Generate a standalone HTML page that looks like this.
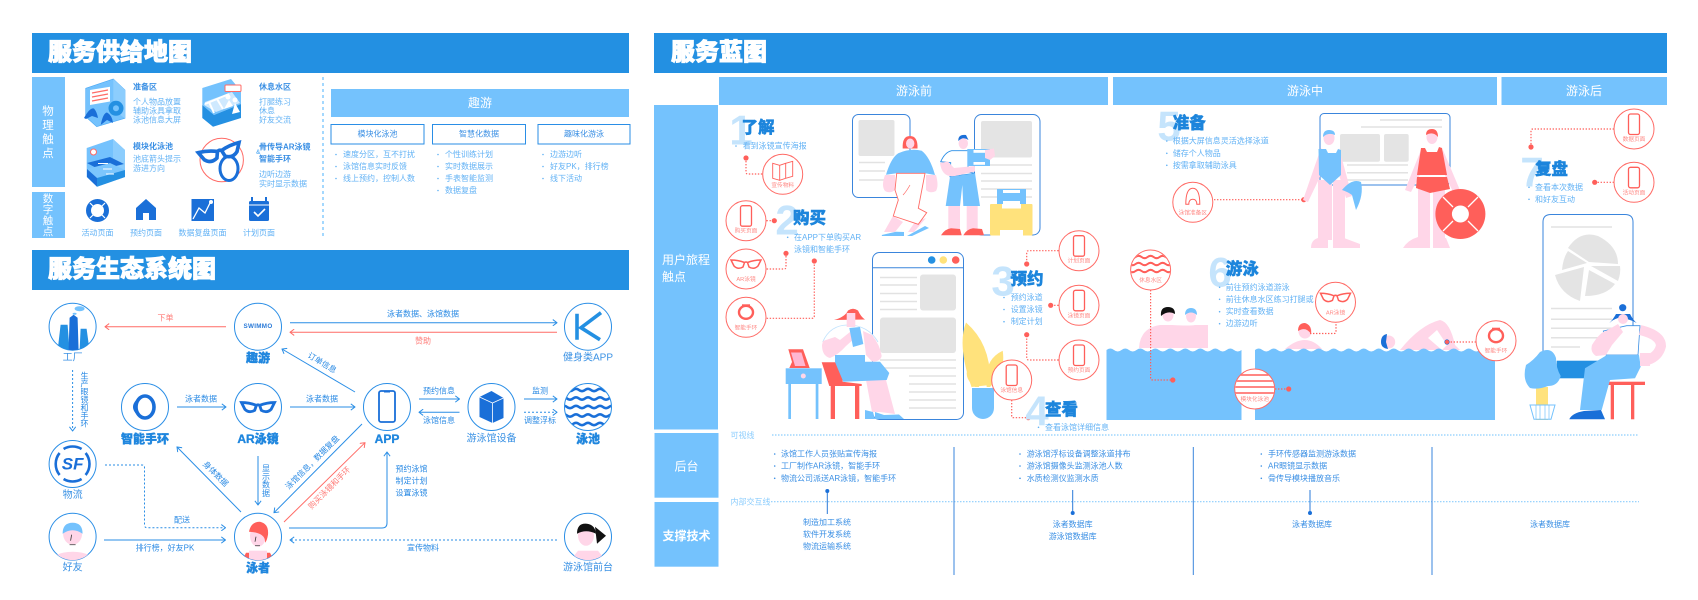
<!DOCTYPE html>
<html><head><meta charset="utf-8"><style>
html,body{margin:0;padding:0;background:#fff;width:1698px;height:600px;overflow:hidden}
svg{display:block;filter:blur(.35px)}
text{font-family:"Liberation Sans","Noto Sans CJK SC",sans-serif;dominant-baseline:central}
.t{font-size:24px;font-weight:900;fill:#fff;stroke:#fff;stroke-width:.9}
.w{fill:#fff}
.m{text-anchor:middle}
.l{font-size:8px;fill:#62b2f5}
.d{font-size:8px;fill:#3a8fe4}
.s{font-size:8px;fill:#2a8ae4}
.r{font-size:8px;fill:#ff7a76}
.lb{font-size:10px;fill:#3b92e4}
.bb{font-size:12px;font-weight:900;fill:#1f86de;stroke:#1f86de;stroke-width:.35}
.h{font-size:16.5px;font-weight:900;fill:#1c85dc;stroke:#1c85dc;stroke-width:.4}
.n{font-size:42px;font-weight:700;fill:#c5e4fc;text-anchor:middle}
.c{font-size:5.7px;fill:#ff8a86;text-anchor:middle}
.ln{stroke:#e2e2e2;stroke-width:1.5;fill:none}
.bl{fill:none;stroke:#2a8ee6;stroke-width:1}
.rd{fill:none;stroke:#ff6b66;stroke-width:1}
.dt{fill:none;stroke:#ff5f5a;stroke-width:1.2;stroke-dasharray:1.4 1.6}
.rc{fill:#fff;stroke:#ff6b66;stroke-width:1}
.ec{fill:#fff;stroke:#2a8ee6;stroke-width:1}
</style></head><body>
<svg width="1698" height="600" viewBox="0 0 1698 600" xmlns="http://www.w3.org/2000/svg">
<defs>
<marker id="ab" viewBox="0 0 10 10" refX="9" refY="5" markerWidth="7" markerHeight="7" markerUnits="userSpaceOnUse" orient="auto"><path d="M3 .5L9 5L3 9.5" fill="none" stroke="#2a8ee6" stroke-width="1.4"/></marker>
<marker id="ar" viewBox="0 0 10 10" refX="9" refY="5" markerWidth="7" markerHeight="7" markerUnits="userSpaceOnUse" orient="auto"><path d="M3 .5L9 5L3 9.5" fill="none" stroke="#ff6b66" stroke-width="1.4"/></marker>
<g id="pc"><circle r="20" class="rc"/><rect x="-5.5" y="-15" width="11" height="20.5" rx="2" fill="#fff" stroke="#ff5f5a" stroke-width="1.3"/></g>
<path id="gog" d="M-15 -4Q-8 -4 -1.5 -1.5L-3 3Q-8 6 -12 2ZM15 -4Q8 -4 1.5 -1.5L3 3Q8 6 12 2ZM-1.5 -1.5Q0 -2.5 1.5 -1.5"/>
<clipPath id="c0"><circle r="23.5"/></clipPath>
<clipPath id="c1"><circle r="19.5"/></clipPath>
<g id="wave"><path d="M-27 0q3 -2.4 6 0t6 0t6 0t6 0t6 0t6 0t6 0t6 0t6 0"/></g>
</defs>

<!-- SUPPLY MAP -->
<rect x="32" y="33" width="597" height="40" fill="#2390e2"/>
<text x="48" y="52.5" class="t">服务供给地图</text>
<rect x="32" y="77" width="33" height="110" fill="#74c2fd"/>
<rect x="32" y="192" width="33" height="46" fill="#74c2fd"/>
<g font-size="11.5" text-anchor="middle"><text x="48" y="112" class="w">物</text><text x="48" y="126" class="w">理</text><text x="48" y="140" class="w">触</text><text x="48" y="154" class="w">点</text></g>
<g font-size="10.5" text-anchor="middle"><text x="48" y="199" class="w">数</text><text x="48" y="210" class="w">字</text><text x="48" y="221" class="w">触</text><text x="48" y="232" class="w">点</text></g>
<line x1="323" y1="77" x2="323" y2="238" stroke="#74c2fd" stroke-width="1.3" stroke-dasharray="3 3"/>
<rect x="331" y="89" width="298" height="28" fill="#74c2fd"/>
<text x="480" y="103" class="w m" font-size="12">趣游</text>
<g fill="#fff" stroke="#2a8ee6" stroke-width="1"><rect x="331" y="124.5" width="93" height="19.5"/><rect x="432.5" y="124.5" width="93" height="19.5"/><rect x="538" y="124.5" width="92" height="19.5"/></g>
<g text-anchor="middle"><text x="377.5" y="134" class="d">模块化泳池</text><text x="479" y="134" class="d">智慧化数据</text><text x="584" y="134" class="d">趣味化游泳</text></g>
<g class="l">
<text x="343" y="154.5">速度分区，互不打扰</text><text x="343" y="166.5">泳馆信息实时反馈</text><text x="343" y="178.5">线上预约，控制人数</text>
<text x="445" y="154.5">个性训练计划</text><text x="445" y="166.5">实时数据展示</text><text x="445" y="178.5">手表智能监测</text><text x="445" y="190.5">数据复盘</text>
<text x="550" y="154.5">边游边听</text><text x="550" y="166.5">好友PK，排行榜</text><text x="550" y="178.5">线下活动</text>
</g>
<g fill="#62b2f5"><circle cx="336" cy="154.5" r=".8"/><circle cx="336" cy="166.5" r=".8"/><circle cx="336" cy="178.5" r=".8"/><circle cx="438" cy="154.5" r=".8"/><circle cx="438" cy="166.5" r=".8"/><circle cx="438" cy="178.5" r=".8"/><circle cx="438" cy="190.5" r=".8"/><circle cx="543" cy="154.5" r=".8"/><circle cx="543" cy="166.5" r=".8"/><circle cx="543" cy="178.5" r=".8"/></g>

<!-- supply icons -->
<g>
<path d="M85.7 88.3L113.3 79L125 90V118.3L96.7 126.7L85.7 116.7Z" fill="#74c2fd" stroke="#4aa8f4" stroke-width=".6"/><path d="M113.3 79L125 90V118.3L113.3 110Z" fill="#8ccdfd"/>
<path d="M90 90L110 86.7V101.5L90 105Z" fill="#fff"/><path d="M92 93L108 90M92 97L108 94M92 101L108 98" stroke="#ff6b66" stroke-width="1.2"/>
<circle cx="116" cy="108.3" r="7.5" fill="#2490e2"/><circle cx="116" cy="108.3" r="3" fill="#74c2fd"/>
<path d="M84 118Q90 107 94 108.5Q97 112 98 118L92 116L86 119ZM100.7 125Q103 113 107 112.5Q112 115 113 123L107 120Z" fill="#1a6fd8"/>
</g>
<g>
<path d="M202.3 88L231 79L241 91V104L214 115L202.3 105Z" fill="#74c2fd"/><path d="M202.3 105L214 115L241 104V118L213 126.7L202.3 118Z" fill="#2490e2"/><path d="M204 105L216 112L240 103L232 92L205 102Z" fill="#cfe9fe"/>
<rect x="225" y="85" width="16" height="6.5" rx="1" fill="#fff" stroke="#ff6b66" stroke-width="1"/>
<path d="M205 104L229 94M209 102L214 113M217 99L223 109" stroke="#fff" stroke-width="2" fill="none"/>
<circle cx="228" cy="97" r="2.5" fill="#fff"/><circle cx="235" cy="100" r="2.5" fill="#fff"/><path d="M224 109L229 100L233 106ZM232 114L235 103L240 112Z" fill="#fff"/>
</g>
<g>
<path d="M86.7 148L113 139L125 150V177L97 186.7L86.7 177Z" fill="#74c2fd"/><path d="M113 139L125 150V177L113 168Z" fill="#8ccdfd"/>
<circle cx="93.5" cy="152" r="3" fill="#fff" stroke="#ff6b66"/>
<path d="M87 163L110 157L124 164L100 170Z" fill="#1a6fd8"/><path d="M87 169L110 163L125 170L97 178Z" fill="#7cc6fd"/><path d="M87 169L97 178V186.7L87 177Z" fill="#1a6fd8"/><path d="M97 178L125 170V177L97 186.7Z" fill="#2490e2"/>
<path d="M98 163.5H108M103 169H112M106 174H114" stroke="#fff" stroke-width="1"/>
</g>
<g>
<circle cx="221.7" cy="160" r="21.7" fill="#fff" stroke="#ff6b66" stroke-width="1"/>
<use href="#gog" transform="translate(220,153) scale(1.4) rotate(-14)" fill="#fff" stroke="#1a6fd8" stroke-width="2.6"/>
<ellipse cx="229" cy="168.5" rx="9" ry="12" fill="none" stroke="#1a6fd8" stroke-width="3"/>
</g>
<g font-weight="700"><text x="133" y="87" class="d" font-weight="700">准备区</text><text x="259" y="87" class="d" font-weight="700">休息水区</text><text x="133" y="146.5" class="d" font-weight="700">模块化泳池</text><text x="259" y="147" class="d" font-weight="700">骨传导AR泳镜</text><text x="259" y="159" class="d" font-weight="700">智能手环</text><text x="256" y="153" font-size="6" fill="#62b2f5">&amp;</text></g>
<g class="l"><text x="133" y="102">个人物品放置</text><text x="133" y="111">辅助泳具拿取</text><text x="133" y="120">泳池信息大屏</text>
<text x="259" y="102">打腿练习</text><text x="259" y="111">休息</text><text x="259" y="120">好友交流</text>
<text x="133" y="159">池底箭头提示</text><text x="133" y="168.5">游进方向</text>
<text x="259" y="174.5">边听边游</text><text x="259" y="184">实时显示数据</text></g>
<!-- digital icons -->
<circle cx="97.5" cy="210.5" r="9" fill="none" stroke="#1a6fd8" stroke-width="5"/><g stroke="#fff" stroke-width="1.2"><path d="M90 203L94 207M105 203L101 207M90 218L94 214M105 218L101 214"/></g>
<path d="M146 199L156 208V220H149V213H143V220H136V208Z" fill="#1a6fd8"/>
<rect x="191.5" y="199" width="22.5" height="22" fill="#1a6fd8"/><path d="M193 219L199 208L205 213L211 201" fill="none" stroke="#fff" stroke-width="1.3"/><circle cx="211" cy="202" r="2" fill="#fff"/>
<rect x="249" y="201" width="20" height="20" rx="1.5" fill="#1a6fd8"/><path d="M252 197v5M266 197v5" stroke="#1a6fd8" stroke-width="2"/><line x1="249" y1="205" x2="269" y2="205" stroke="#fff"/><path d="M254 212L258 216L265 209" stroke="#fff" stroke-width="1.6" fill="none"/>
<g text-anchor="middle"><text x="97.5" y="233" class="l">活动页面</text><text x="146" y="233" class="l">预约页面</text><text x="202.5" y="233" class="l">数据复盘页面</text><text x="259" y="233" class="l">计划页面</text></g>

<!-- ECOSYSTEM -->
<rect x="32" y="250" width="597" height="40" fill="#2390e2"/>
<text x="48" y="269.5" class="t">服务生态系统图</text>
<!-- connectors -->
<line x1="226" y1="326.7" x2="105" y2="326.7" class="rd" marker-end="url(#ar)"/>
<line x1="290" y1="322.7" x2="557" y2="322.7" class="bl" marker-end="url(#ab)"/>
<line x1="557" y1="332.3" x2="290" y2="332.3" class="rd" marker-end="url(#ar)"/>
<line x1="355" y1="392" x2="282" y2="349" class="bl" marker-end="url(#ab)"/>
<line x1="72.6" y1="370" x2="72.6" y2="431" class="bl" stroke-dasharray="2 2" marker-end="url(#ab)"/>
<line x1="177" y1="407" x2="226" y2="407" class="bl" marker-end="url(#ab)"/>
<line x1="290" y1="407" x2="355" y2="407" class="bl" marker-end="url(#ab)"/>
<line x1="419" y1="399" x2="459.5" y2="399" class="bl" marker-end="url(#ab)"/>
<line x1="459.5" y1="412.3" x2="419" y2="412.3" class="bl" marker-end="url(#ab)"/>
<line x1="524" y1="399" x2="557" y2="399" class="bl" marker-end="url(#ab)"/>
<line x1="524" y1="412.3" x2="557" y2="412.3" class="bl" stroke-dasharray="2 2" marker-end="url(#ab)"/>
<line x1="241" y1="512" x2="177" y2="447" class="bl" marker-end="url(#ab)"/>
<line x1="258" y1="456" x2="258" y2="505" class="bl" marker-end="url(#ab)"/>
<line x1="362" y1="424" x2="274" y2="512.7" class="bl" marker-end="url(#ab)"/>
<line x1="284" y1="522" x2="365" y2="442.7" class="rd" marker-end="url(#ar)"/>
<path d="M289 528H382Q387 528 387 523V452" class="bl" marker-end="url(#ab)"/>
<path d="M105 465H142Q144.5 465 144.5 467.5V525Q144.5 527.7 147 527.7H225.5" class="bl" stroke-dasharray="2 2" marker-end="url(#ab)"/>
<line x1="104" y1="540" x2="225.5" y2="540" class="bl" marker-end="url(#ab)"/>
<line x1="557" y1="540" x2="290" y2="540" class="bl" stroke-dasharray="2 2" marker-end="url(#ab)"/>
<!-- connector labels -->
<g class="s">
<text x="165.5" y="318" class="r" text-anchor="middle">下单</text>
<text x="423" y="314" text-anchor="middle">泳者数据、泳馆数据</text>
<text x="423" y="341" class="r" text-anchor="middle">赞助</text>
<text x="322" y="363" text-anchor="middle" transform="rotate(31 322 363)">订单信息</text>
<text x="201" y="399" text-anchor="middle">泳者数据</text>
<text x="322" y="399" text-anchor="middle">泳者数据</text>
<text x="439" y="391" text-anchor="middle">预约信息</text>
<text x="439" y="420.5" text-anchor="middle">泳馆信息</text>
<text x="540" y="391" text-anchor="middle">监测</text>
<text x="540" y="420.5" text-anchor="middle">调整浮标</text>
<text x="215.5" y="474" text-anchor="middle" transform="rotate(45 215.5 474)">身体数据</text>
<text x="312.5" y="462.5" text-anchor="middle" transform="rotate(-45 312.5 462.5)">泳馆信息，数据复盘</text>
<text x="329.5" y="488" class="r" text-anchor="middle" transform="rotate(-45 329.5 488)">购买泳镜和手环</text>
<text x="395.5" y="469">预约泳馆</text><text x="395.5" y="481">制定计划</text><text x="395.5" y="493">设置泳镜</text>
<text x="182" y="520" text-anchor="middle">配送</text>
<text x="165" y="548" text-anchor="middle">排行榜，好友PK</text>
<text x="423" y="548" text-anchor="middle">宣传物料</text>
<g text-anchor="middle"><text x="84.5" y="376">生</text><text x="84.5" y="384">产</text><text x="84.5" y="392">眼</text><text x="84.5" y="400">镜</text><text x="84.5" y="408">和</text><text x="84.5" y="416">手</text><text x="84.5" y="424">环</text>
<text x="266" y="468.5">显</text><text x="266" y="476.8">示</text><text x="266" y="485">数</text><text x="266" y="493.3">据</text></g>
</g>
<!-- nodes -->
<g transform="translate(72.6,326.7)"><circle r="23.5" class="ec"/><g clip-path="url(#c0)"><path d="M-15 24L-12 -2H-5L-3 24Z" fill="#2490e2"/><path d="M-4 24L-3 -9L1 -12L5 -9L6 24Z" fill="#1a6fd8"/><path d="M7 24L8 2H14L17 24Z" fill="#2490e2"/></g><ellipse cx="7" cy="-18" rx="5" ry="2.5" fill="#74c2fd"/><ellipse cx="2" cy="-13" rx="2" ry="1" fill="#74c2fd"/></g>
<g transform="translate(258,326.7)"><circle r="23.5" class="ec"/><text text-anchor="middle" font-size="6.3" font-weight="700" fill="#2a7ad8" letter-spacing=".3">SWIMMO</text></g>
<g transform="translate(588,326.7)"><circle r="23.5" class="ec"/><path d="M-11 -13V13M13 -14L-7 1L12 13" fill="none" stroke="#2490e2" stroke-width="3.6" stroke-linejoin="miter"/></g>
<g transform="translate(145,407)"><circle r="23.5" class="ec"/><ellipse cx="0" rx="9" ry="11" fill="none" stroke="#1a6fd8" stroke-width="3.6"/><path d="M-9 -6Q-14 0 -9 6" fill="#1a6fd8" stroke="#1a6fd8"/></g>
<g transform="translate(258,407)"><circle r="23.5" class="ec"/><use href="#gog" transform="scale(1.1)" fill="#fff" stroke="#1a6fd8" stroke-width="2.6"/></g>
<g transform="translate(387,407)"><circle r="23.5" class="ec"/><rect x="-8" y="-16" width="16" height="31" rx="2" fill="#fff" stroke="#1a6fd8" stroke-width="1.8"/><path d="M-3 -15H3" stroke="#1a6fd8"/></g>
<g transform="translate(491.5,407)"><circle r="23.5" class="ec"/><path d="M-12 -10L0 -16L12 -9V11L1 16L-12 10Z" fill="#1a6fd8"/><path d="M-12 -10L1 -4V16" fill="none" stroke="#fff" stroke-width=".8"/><path d="M1 -4L12 -9" stroke="#fff" stroke-width=".8"/></g>
<g transform="translate(588,407)"><circle r="23.5" fill="#fff"/><g clip-path="url(#c0)" fill="none" stroke="#1a6fd8" stroke-width="2.6"><use href="#wave" y="-17"/><use href="#wave" y="-8.5"/><use href="#wave" y="0"/><use href="#wave" y="8.5"/><use href="#wave" y="17"/></g><circle r="23.5" fill="none" stroke="#2a8ee6"/></g>
<g transform="translate(72.6,464)"><circle r="23.5" class="ec"/><text text-anchor="middle" font-size="17" font-weight="700" font-style="italic" fill="#1a6fd8" y="0">SF</text><path d="M-9 -15A17.5 17.5 0 0 1 9 -15M-9 15A17.5 17.5 0 0 0 9 15M-13 -11A17.5 17.5 0 0 0 -13 11M13 -11A17.5 17.5 0 0 1 13 11" fill="none" stroke="#1a6fd8" stroke-width="2.6"/></g>
<g transform="translate(72.6,536.7)"><circle r="23.5" class="ec"/><g clip-path="url(#c0)"><ellipse cy="27" rx="24" ry="12" fill="#ffd6e8"/><ellipse cy="-3" rx="9.5" ry="11" fill="#ffd6e8"/><path d="M-10 -3Q-10 -14 0 -14Q10 -14 10 -3Q0 -10 -10 -3Z" fill="#74c2fd"/><path d="M-1 -2L-2 4" stroke="#333" stroke-width=".8"/><path d="M-3 8H3" stroke="#555" stroke-width=".8"/></g></g>
<g transform="translate(258,536.7)"><circle r="23.5" class="ec"/><g clip-path="url(#c0)"><path d="M-16 24L-12 16H12L16 24Z" fill="#ff5f5a"/><rect x="-9" y="14" width="18" height="10" fill="#ffd6e8"/><ellipse cx="0" cy="-1" rx="8" ry="11" fill="#ffd6e8"/><path d="M-9 -5Q-7 -15 2 -15Q11 -13 10 -2Q9 4 7 6Q8 -4 -9 -5Z" fill="#ff5f5a"/><path d="M-2 0L-3 5" stroke="#333" stroke-width=".8"/><path d="M-3 9H2" stroke="#555" stroke-width=".8"/></g></g>
<g transform="translate(588,536.7)"><circle r="23.5" class="ec"/><g clip-path="url(#c0)"><path d="M-18 24L-10 14H10L18 24Z" fill="#ffd6e8"/><ellipse cx="-2" cy="-1" rx="8" ry="10" fill="#ffd6e8"/><path d="M-11 -3Q-11 -14 -1 -13Q7 -12 8 -3Q-2 -8 -11 -3Z" fill="#111"/><path d="M7 -10L18 -1L9 7Z" fill="#111"/></g></g>
<text x="72.6" y="358" class="lb" text-anchor="middle">工厂</text>
<text x="258" y="358" class="bb" text-anchor="middle">趣游</text>
<text x="588" y="358" class="lb" text-anchor="middle">健身类APP</text>
<text x="145" y="439" class="bb" text-anchor="middle">智能手环</text>
<text x="258" y="439" class="bb" text-anchor="middle">AR泳镜</text>
<text x="387" y="439" class="bb" text-anchor="middle">APP</text>
<text x="491.5" y="439" class="lb" text-anchor="middle">游泳馆设备</text>
<text x="588" y="439" class="bb" text-anchor="middle">泳池</text>
<text x="72.6" y="495.5" class="lb" text-anchor="middle">物流</text>
<text x="72.6" y="568" class="lb" text-anchor="middle">好友</text>
<text x="258" y="568" class="bb" text-anchor="middle">泳者</text>
<text x="588" y="568" class="lb" text-anchor="middle">游泳馆前台</text>

<!-- BLUEPRINT -->
<rect x="654" y="33" width="1013" height="40" fill="#2390e2"/>
<text x="671" y="52.5" class="t">服务蓝图</text>
<rect x="719" y="77" width="389" height="28" fill="#74c2fd"/><rect x="1113" y="77" width="384" height="28" fill="#74c2fd"/><rect x="1501.5" y="77" width="165.5" height="28" fill="#74c2fd"/>
<g font-size="12" text-anchor="middle"><text x="914" y="91" class="w">游泳前</text><text x="1305" y="91" class="w">游泳中</text><text x="1584" y="91" class="w">游泳后</text></g>
<rect x="654" y="105" width="64" height="324.5" fill="#74c2fd"/>
<rect x="654.5" y="433" width="64" height="64.7" fill="#74c2fd"/>
<rect x="654.5" y="502" width="64" height="64.7" fill="#74c2fd"/>
<text x="662" y="260" class="w" font-size="12">用户旅程</text><text x="662" y="277" class="w" font-size="12">触点</text>
<text x="686.5" y="466.5" class="w" font-size="12" text-anchor="middle">后台</text>
<text x="686.5" y="536" class="w" font-size="12" font-weight="700" text-anchor="middle">支撑技术</text>
<line x1="772" y1="435" x2="1639" y2="435" stroke="#8ccdfd" stroke-width="1.2" stroke-dasharray="1.5 1.5"/>
<line x1="771" y1="501.7" x2="1639" y2="501.7" stroke="#8ccdfd" stroke-width="1.2" stroke-dasharray="1.5 1.5"/>
<text x="730.5" y="435.5" font-size="8" fill="#8ccdfd">可视线</text><text x="730.5" y="502" font-size="8" fill="#8ccdfd">内部交互线</text>
<g stroke="#3a85dc" stroke-width="1"><line x1="954" y1="447" x2="954" y2="575"/><line x1="1193.3" y1="447" x2="1193.3" y2="575"/><line x1="1432" y1="447" x2="1432" y2="575"/></g>
<g class="d">
<text x="781" y="454">泳馆工作人员张贴宣传海报</text><text x="781" y="466">工厂制作AR泳镜，智能手环</text><text x="781" y="478.3">物流公司派送AR泳镜，智能手环</text>
<text x="1026.7" y="454">游泳馆浮标设备调整泳道排布</text><text x="1026.7" y="466">游泳馆摄像头监测泳池人数</text><text x="1026.7" y="478.3">水质检测仪监测水质</text>
<text x="1268" y="454">手环传感器监测游泳数据</text><text x="1268" y="466">AR眼镜显示数据</text><text x="1268" y="478.3">骨传导模块播放音乐</text>
<g text-anchor="middle"><text x="827" y="522.7">制造加工系统</text><text x="827" y="534.7">软件开发系统</text><text x="827" y="546.7">物流运输系统</text>
<text x="1072.7" y="524.3">泳者数据库</text><text x="1072.7" y="536.7">游泳馆数据库</text><text x="1312" y="524.3">泳者数据库</text><text x="1550" y="524.3">泳者数据库</text></g>
</g>
<g fill="#3a8fe4"><circle cx="774.7" cy="454" r=".8"/><circle cx="774.7" cy="466" r=".8"/><circle cx="774.7" cy="478.3" r=".8"/><circle cx="1020" cy="454" r=".8"/><circle cx="1020" cy="466" r=".8"/><circle cx="1020" cy="478.3" r=".8"/><circle cx="1261.3" cy="454" r=".8"/><circle cx="1261.3" cy="466" r=".8"/><circle cx="1261.3" cy="478.3" r=".8"/></g>
<g stroke="#2a7ad8" stroke-width="1" fill="#1a6fd8"><line x1="827.3" y1="491" x2="827.3" y2="514"/><circle cx="827.3" cy="491" r="2" stroke="none"/><line x1="1072.7" y1="490" x2="1072.7" y2="513"/><circle cx="1072.7" cy="513" r="2" stroke="none"/><line x1="1310" y1="490" x2="1310" y2="513"/><circle cx="1310" cy="513" r="2" stroke="none"/></g>

<!-- posters top-left -->
<rect x="852.5" y="114.5" width="57.5" height="83" rx="6" fill="#fff" stroke="#3a85dc" stroke-width="1"/>
<rect x="858.5" y="120" width="36" height="36" rx="2" fill="#e4e4e4"/>
<path d="M859 162.5H885M859 171H885M859 180H885" class="ln"/>
<rect x="974.5" y="114.5" width="65.5" height="120.5" rx="7" fill="#fff" stroke="#3a85dc" stroke-width="1"/>
<rect x="981" y="121" width="51" height="36.5" rx="2" fill="#e4e4e4"/>
<path d="M981 165H1032M981 173.5H1032M981 181H1032M981 189H1032M981 197H1032" class="ln"/>
<!-- woman 1 -->
<path d="M902.7 148.5Q902 136 910 136Q918 136 917.5 148.5Z" fill="#ff5f5a"/><ellipse cx="910.2" cy="143.5" rx="4.2" ry="5" fill="#ffd6e8"/>
<path d="M886 174.7Q891 158 898.3 153.3Q910 148 921.7 150.7Q930 157 935 175L925 173.3H896.7Z" fill="#74c2fd"/>
<path d="M885 175H895L895 190Q890 194 885 191Q881 186 885 175ZM926 175H936Q939 186 936 191Q930 194 926 190Z" fill="#ffd6e8"/>
<path d="M893 216L884 232H895L903 222ZM915 222L908 232H914L926 218Z" fill="#ffd6e8"/>
<path d="M881.7 235L896 231.7L904 232V236H882ZM907 236L925 226L929 228L912 236Z" fill="#74c2fd"/>
<path d="M896.7 173.3H925L918.3 208.3L926.7 212.7L918.3 224.3L893.3 216L898.3 200L895 190Z" fill="#fff" stroke="#ff6b66" stroke-width=".9"/>
<path d="M910 185Q906 192 903 195" fill="none" stroke="#ff6b66" stroke-width=".7"/>
<!-- man -->
<ellipse cx="963.3" cy="143.5" rx="4.7" ry="5.5" fill="#ffd6e8"/><path d="M958.3 141Q958 134 966 135L968.5 140Q963 136 958.3 141Z" fill="#1a6fd8"/>
<path d="M940.7 161.7Q945 152 951.7 150.7H968V172L975 173.3L950 176.7L950.7 162.7Z" fill="#fff" stroke="#2a8ee6" stroke-width=".9"/>
<path d="M950 176.7L975 173.3L980 206H963.3L962.3 185L960 206H945.7Z" fill="#74c2fd"/>
<rect x="948.3" y="206" width="11.7" height="24" fill="#ffd6e8"/><rect x="966.7" y="206" width="11" height="24" fill="#ffd6e8"/>
<path d="M941 235.3Q945 229 951 228.3L960 229L961.7 235.3ZM963.3 235.3Q967 229 973 228.3L982 229L984 235.3Z" fill="#ff5f5a"/>
<path d="M940 163Q942 178 955 176L975 171.5V166L954 168L948 161.5Z" fill="#ffd6e8"/>
<path d="M967.3 149H990V166H967.3Z" fill="#74c2fd"/><rect x="973.5" y="150" width="11.5" height="2.8" fill="#fff"/><rect x="973.5" y="162" width="11.5" height="2.8" fill="#fff"/><path d="M985 150L994 148.5L995 156L990 160L985 158Z" fill="#ffd6e8"/>
<rect x="990" y="204" width="42.5" height="31.5" rx="1" fill="#ffe27c"/><rect x="1002" y="204" width="19" height="4.5" fill="#fff"/><rect x="1000" y="230" width="23" height="5.5" fill="#fff"/>
<rect x="997" y="189" width="29" height="15" fill="#74c2fd"/><rect x="1003" y="190" width="17" height="3" fill="#fff"/><rect x="1003" y="201" width="17" height="3" fill="#fff"/>
<!-- step 1/2 -->
<text x="741" y="130" class="n">1</text><text x="741.5" y="128" class="h">了解</text>
<text x="742.7" y="146" class="l">看到泳镜宣传海报</text><circle cx="736" cy="146" r=".8" fill="#62b2f5"/>
<path d="M746 158V172Q746 174 748 174H762.5" class="dt"/><circle cx="746" cy="158" r="2.6" fill="#ff5f5a"/>
<g transform="translate(782.7,174.3)"><circle r="20" class="rc"/><path d="M-10 -11L-3 -9V6L-10 4ZM-3 -9L3 -11V4L-3 6ZM3 -11L10 -13V2L3 4Z" fill="#fff" stroke="#ff5f5a" stroke-width=".9"/><text y="11.5" class="c">宣传物料</text></g>
<use href="#pc" x="746" y="220.7"/><text x="746" y="231.7" class="c">购买页面</text>
<path d="M766.5 220.7H774" class="dt"/><circle cx="774.3" cy="220.7" r="2.6" fill="#ff5f5a"/>
<text x="787" y="220" class="n">2</text><text x="793" y="218.5" class="h">购买</text>
<text x="794" y="237.3" class="l">在APP下单购买AR</text><text x="794" y="249.3" class="l">泳镜和智能手环</text><circle cx="787.7" cy="237.3" r=".8" fill="#62b2f5"/>
<g transform="translate(746,269)"><circle r="20" class="rc"/><use href="#gog" y="-5" fill="#fff" stroke="#ff5f5a" stroke-width="1.5"/><text y="11" class="c">AR泳镜</text></g>
<path d="M766.7 269H784Q786 269 786 267V253.5" class="dt"/><circle cx="786" cy="253.3" r="2.6" fill="#ff5f5a"/>
<g transform="translate(746,317.3)"><circle r="20" class="rc"/><ellipse cy="-5" rx="7" ry="6.5" fill="none" stroke="#ff5f5a" stroke-width="2.4"/><path d="M-4 -12H4" stroke="#ff5f5a" stroke-width="2"/><text y="11" class="c">智能手环</text></g>
<path d="M766.7 318.3H812Q814.3 318.3 814.3 316V261" class="dt"/><circle cx="814.3" cy="261" r="2.6" fill="#ff5f5a"/>
<!-- browser -->
<rect x="872.5" y="252.5" width="91" height="167" rx="7" fill="#fff" stroke="#3a85dc" stroke-width="1"/>
<line x1="872.5" y1="267.7" x2="963.5" y2="267.7" stroke="#3a85dc"/>
<circle cx="931.7" cy="260" r="3.8" fill="#2490e2"/><circle cx="943.3" cy="260" r="3.8" fill="#ffe27c"/><circle cx="955.7" cy="260" r="3.8" fill="#ff5f5a"/>
<path d="M880 277.5H917M880 285H917M880 293.5H917M880 301.5H917M880 309.5H917M880 360H956M880 368H956M909 376H956M909 384H956M909 392H956M909 400H956M909 408H956" class="ln"/>
<rect x="920" y="274.5" width="36" height="36" rx="3" fill="#e4e4e4"/><rect x="880" y="317.5" width="76" height="35.5" rx="3" fill="#e4e4e4"/>
<!-- sitting woman -->
<path d="M835 337H867V364H835Z" fill="#fff"/>
<path d="M822.7 342Q830 325 848 325Q868 325 878 342" fill="#fff" stroke="#bfe2fd" stroke-width=".8"/>
<path d="M834 320Q845 317 848 310.5Q853 307 858 310.5Q861 317 865 319.5Z" fill="#ff5f5a"/><path d="M846.7 313H855.3V327H846.7Z" fill="#ffd6e8"/>
<path d="M822 345Q822 356 830 358Q838 355 846 346L855 338L850 332L840 340L835 337L823 341Z" fill="#ffd6e8"/>
<path d="M863 331L872 335Q880 345 881.7 356Q880 362 872 361.5L866 355Z" fill="#ffd6e8"/>
<path d="M849.3 328L860 327L863.3 344L853 347Z" fill="#74c2fd"/>
<path d="M866 380L872 412H880L895 414L886 380Z" fill="#ffd6e8"/>
<path d="M865 410L873 412L875 419H865ZM875 412L884 415L899 414.5L904 419H875Z" fill="#74c2fd"/>
<path d="M821.7 362.3H841.7L842.7 381.7L861.7 384V386H829.3Z" fill="#ff5f5a"/><rect x="830.7" y="386" width="4.3" height="33" fill="#ff5f5a"/><rect x="855" y="386" width="4.3" height="33" fill="#ff5f5a"/>
<path d="M835 355H865V361.7H880L889.3 373L886.7 380L843.3 381.7L835 362Z" fill="#74c2fd"/>
<rect x="785.7" y="368.3" width="36" height="15.7" fill="#74c2fd"/><circle cx="803.3" cy="376" r="2.5" fill="#ffd6e8"/>
<rect x="788.3" y="384" width="2.7" height="35" fill="#74c2fd"/><rect x="815.7" y="384" width="2.7" height="35" fill="#74c2fd"/>
<path d="M788.3 349.3H803L809.7 368H789.3L792 362Z" fill="#ff5f5a"/><path d="M791 352.5H801.5L805.5 366H795Z" fill="#ffb7d2"/>
<!-- plant -->
<path d="M971.5 387Q957 345 966 322.5Q992 345 990 385Z" fill="#ffe27c"/>
<path d="M986.7 387Q983 360 1002.7 350.7Q1006 372 990 387Z" fill="#ffe27c"/>
<path d="M975 387Q963 378 968.3 366.7Q980 374 979 387Z" fill="#ffe27c"/>
<path d="M972 388H994V408A11 11 0 0 1 972 408Z" fill="#74c2fd"/>
<!-- step 3 -->
<text x="1003" y="281" class="n">3</text><text x="1010.5" y="279.5" class="h">预约</text>
<text x="1010.7" y="297.5" class="l">预约泳道</text><text x="1010.7" y="309.5" class="l">设置泳镜</text><text x="1010.7" y="321.7" class="l">制定计划</text>
<g fill="#62b2f5"><circle cx="1004" cy="297.5" r=".8"/><circle cx="1004" cy="309.5" r=".8"/><circle cx="1004" cy="321.7" r=".8"/></g>
<path d="M1058.5 250.7H1029Q1026.7 250.7 1026.7 253V264" class="dt"/><circle cx="1026.7" cy="264" r="2.6" fill="#ff5f5a"/>
<path d="M1058.5 305.3H1051" class="dt"/><circle cx="1050.7" cy="305.3" r="2.6" fill="#ff5f5a"/>
<path d="M1058.5 360H1029Q1026.7 360 1026.7 358V334.7" class="dt"/><circle cx="1026.7" cy="334.7" r="2.6" fill="#ff5f5a"/>
<use href="#pc" x="1079" y="250.7"/><text x="1079" y="261.7" class="c">计划页面</text>
<use href="#pc" x="1079" y="305.3"/><text x="1079" y="316.3" class="c">泳镜页面</text>
<use href="#pc" x="1079" y="360"/><text x="1079" y="371" class="c">预约页面</text>
<use href="#pc" x="1011.7" y="380"/><text x="1011.7" y="391" class="c">泳馆信息</text>
<path d="M1011.7 400V416Q1011.7 417.7 1013.5 417.7H1028" class="dt"/><circle cx="1028.3" cy="417.7" r="2.6" fill="#ff5f5a"/>
<text x="1037" y="411" class="n">4</text><text x="1045" y="410" class="h">查看</text>
<text x="1045" y="427.3" class="l">查看泳馆详细信息</text><circle cx="1038.5" cy="427.3" r=".8" fill="#62b2f5"/>

<!-- step 5 -->
<text x="1169" y="126" class="n">5</text><text x="1172.8" y="123.5" class="h">准备</text>
<text x="1172.8" y="141" class="l">根据大屏信息灵活选择泳道</text><text x="1172.8" y="153.3" class="l">储存个人物品</text><text x="1172.8" y="165.3" class="l">按需拿取辅助泳具</text>
<g fill="#62b2f5"><circle cx="1166.8" cy="141" r=".8"/><circle cx="1166.8" cy="153.3" r=".8"/><circle cx="1166.8" cy="165.3" r=".8"/></g>
<path d="M1214 199.7H1303" class="dt"/><circle cx="1303.8" cy="199.7" r="2.6" fill="#ff5f5a"/>
<g transform="translate(1192.8,202.3)"><circle r="20" class="rc"/><path d="M-7 2Q-7 -14 0 -14Q7 -14 7 2L4 2Q4 -3 0 -3Q-4 -3 -4 2Z" fill="#fff" stroke="#ff5f5a" stroke-width="1"/><text y="11" class="c">泳馆准备区</text></g>
<rect x="1320" y="113.5" width="130" height="71.5" rx="4" fill="#fff" stroke="#3a85dc" stroke-width="1"/>
<rect x="1340" y="134" width="40" height="27.7" rx="2" fill="#e4e4e4"/><rect x="1384" y="134" width="24.7" height="27.7" rx="2" fill="#e4e4e4"/>
<path d="M1380 120H1442M1361 127H1442M1347 165H1408M1347 172.7H1408M1347 180H1408" class="ln"/>
<!-- swimmers standing -->
<path d="M1321 148L1303 200L1308 202L1328 160ZM1339 148L1352 196L1346 198L1336 165Z" fill="#ffd6e8"/>
<rect x="1318" y="180" width="14" height="60" fill="#ffd6e8"/><rect x="1333" y="180" width="12" height="60" fill="#ffd6e8"/>
<path d="M1311 248Q1311 240 1318 238H1328V248ZM1333 238H1344L1360 244V248H1333Z" fill="#ffd6e8"/>
<path d="M1318.5 149H1326L1328 153H1336L1338 149L1341 150L1341 175L1330 185L1319 175Z" fill="#74c2fd"/>
<ellipse cx="1329" cy="138" rx="5.5" ry="7" fill="#ffd6e8"/><path d="M1323 137Q1323 130 1329 130Q1335 130 1335 135Q1328 132 1323 137Z" fill="#74c2fd"/>
<path d="M1342 190Q1352 178 1361 182Q1364 195 1356 210L1352 195Q1348 192 1342 190Z" fill="#74c2fd"/>
<path d="M1421 150L1405 190L1411 192L1425 165ZM1443 150L1462 195L1456 198L1440 165Z" fill="#ffd6e8"/>
<rect x="1418" y="188" width="12" height="52" fill="#ffd6e8"/><rect x="1433" y="188" width="12" height="52" fill="#ffd6e8"/>
<path d="M1403 248Q1408 240 1418 237H1430V248ZM1433 238H1446L1450 248H1433Z" fill="#ffd6e8"/>
<path d="M1421 148H1425L1427 152H1437L1439 147L1442 148L1447 175H1417ZM1417 177H1447L1450 189L1430 193L1416 188Z" fill="#ff5f5a"/>
<ellipse cx="1432" cy="137" rx="5.5" ry="7" fill="#ffd6e8"/><path d="M1426 135Q1426 129 1432 129Q1438 129 1438 137Q1433 131 1426 135Z" fill="#ff5f5a"/>
<circle cx="1460.4" cy="214" r="25" fill="#ff5f5a"/><circle cx="1460.4" cy="214" r="8.5" fill="#fff"/>
<path d="M1453 207L1443 197M1468 207L1478 197M1453 221L1443 231M1468 221L1478 231" stroke="#fff" stroke-width="1.3"/>

<!-- step 6 -->
<text x="1220" y="272" class="n">6</text><text x="1225.7" y="269.5" class="h">游泳</text>
<text x="1225.7" y="287.3" class="l">前往预约泳道游泳</text><text x="1225.7" y="299.3" class="l">前往休息水区练习打腿或</text><text x="1225.7" y="311.7" class="l">实时查看数据</text><text x="1225.7" y="323.7" class="l">边游边听</text>
<g fill="#62b2f5"><circle cx="1219.6" cy="287.3" r=".8"/><circle cx="1219.6" cy="299.3" r=".8"/><circle cx="1219.6" cy="311.7" r=".8"/><circle cx="1219.6" cy="323.7" r=".8"/></g>
<!-- pool people -->
<path d="M1139 348Q1140 328 1160 325H1172Q1190 326 1195 325H1208V348Z" fill="#ffd6e8"/>
<ellipse cx="1168" cy="315" rx="5.5" ry="6.5" fill="#ffd6e8"/><path d="M1161 316Q1160 307 1168 307Q1175 307 1175 314Q1168 310 1161 316Z" fill="#111"/>
<ellipse cx="1191" cy="316" rx="5" ry="6.5" fill="#ffd6e8"/><path d="M1185 315Q1185 308 1191 308Q1197 308 1197 315Q1191 310 1185 315Z" fill="#74c2fd"/>
<path d="M1285 349Q1306 331 1322 349Z" fill="#ffd6e8"/><ellipse cx="1305" cy="331.5" rx="6.5" ry="7" fill="#ffd6e8"/><path d="M1298 331Q1298 323 1305 323Q1312 325 1311 334Q1306 326 1298 331Z" fill="#ff5f5a"/>
<path d="M1400 350Q1420 325 1440 320Q1450 322 1455 345L1460 350Z" fill="#ffd6e8"/><path d="M1428 338L1437 330L1447 345L1442 350" fill="#fff"/>
<circle cx="1388.7" cy="342" r="6.5" fill="#ffd6e8"/><path d="M1387 334Q1381 335 1381 342Q1381 348 1388 349L1386 342Z" fill="#1a6fd8"/><circle cx="1447" cy="342" r="2.6" fill="#1a6fd8"/>
<path d="M1106.5 350q3.75 -3 7.5 0t7.5 0t7.5 0t7.5 0t7.5 0t7.5 0t7.5 0t7.5 0t7.5 0t7.5 0t7.5 0t7.5 0t7.5 0t7.5 0t7.5 0t7.5 0t7.5 0t7.5 0V420H1106.5Z" fill="#74c2fd"/>
<path d="M1255 350q3.75 -3 7.5 0t7.5 0t7.5 0t7.5 0t7.5 0t7.5 0t7.5 0t7.5 0t7.5 0t7.5 0t7.5 0t7.5 0t7.5 0t7.5 0t7.5 0t7.5 0t7.5 0t7.5 0t7.5 0t7.5 0t7.5 0t7.5 0t7.5 0t7.5 0t7.5 0t7.5 0t7.5 0t7.5 0t7.5 0t7.5 0t7.5 0t7.5 0V420H1255Z" fill="#74c2fd"/>
<path d="M1150.6 290V378Q1150.6 380 1153 380H1172" class="dt"/><circle cx="1172.8" cy="380" r="2.6" fill="#ff5f5a"/>
<path d="M1275 389H1288" class="dt"/><circle cx="1288.7" cy="389" r="2.6" fill="#ff5f5a"/>
<g transform="translate(1150.6,270)"><circle r="20" fill="#fff"/><g clip-path="url(#c1)" fill="none" stroke="#ff5f5a" stroke-width="2"><use href="#wave" y="-13"/><use href="#wave" y="-6"/><use href="#wave" y="1"/></g><circle r="20" fill="none" stroke="#ff6b66"/><text y="11" class="c">休息水区</text></g>
<g transform="translate(1254.7,389)"><circle r="20" fill="#fff"/><g clip-path="url(#c1)" stroke="#ff5f5a" stroke-width="1.6"><path d="M-20 -14H20M-20 -8H20M-20 -2H20M-20 4H20"/></g><circle r="20" fill="none" stroke="#ff6b66"/><text y="11" class="c">模块化泳池</text></g>
<path d="M1310 333.5H1334Q1336 333.5 1336 331V322" class="dt"/>
<g transform="translate(1335.5,302.3)"><circle r="20" class="rc"/><use href="#gog" y="-5" fill="#fff" stroke="#ff5f5a" stroke-width="1.5"/><text y="11" class="c">AR泳镜</text></g>
<path d="M1476 342H1448" class="dt"/><circle cx="1447" cy="342" r="2" fill="#ff5f5a"/>
<g transform="translate(1496,340.7)"><circle r="20" class="rc"/><ellipse cy="-5" rx="7" ry="6.5" fill="none" stroke="#ff5f5a" stroke-width="2.4"/><path d="M-4 -12H4" stroke="#ff5f5a" stroke-width="2"/><text y="11" class="c">智能手环</text></g>

<!-- step 7 -->
<path d="M1614 129H1533Q1531 129 1531 131V147" class="dt"/><circle cx="1531" cy="147" r="2.6" fill="#ff5f5a"/>
<use href="#pc" x="1634" y="129"/><text x="1634" y="140" class="c">数据页面</text>
<text x="1532" y="172" class="n">7</text><text x="1535" y="169.5" class="h">复盘</text>
<text x="1535" y="187.3" class="l">查看本次数据</text><text x="1535" y="199.3" class="l">和好友互动</text>
<g fill="#62b2f5"><circle cx="1529" cy="187.3" r=".8"/><circle cx="1529" cy="199.3" r=".8"/></g>
<path d="M1614 182.3H1596" class="dt"/><circle cx="1594.7" cy="182.3" r="2.6" fill="#ff5f5a"/>
<use href="#pc" x="1634" y="182.3"/><text x="1634" y="193.3" class="c">活动页面</text>
<!-- phone -->
<path d="M1543 361V222Q1543 214.5 1551 214.5H1625Q1633 214.5 1633 222V361" fill="#fff" stroke="#3a85dc" stroke-width="1"/>
<path d="M1551 227H1612M1551 308.5H1612M1551 319.3H1612M1551 328.3H1612M1551 337.7H1612M1551 347H1580" class="ln"/>
<path d="M1568 248Q1580 230 1598 236Q1618 246 1618 264L1589 262Z" fill="#e4e4e4"/><path d="M1562 270Q1563 258 1568 251L1587 263Z" fill="#e4e4e4"/>
<path d="M1555 275L1584 267L1580 301Q1560 294 1555 275Z" fill="#e4e4e4"/><path d="M1591 266L1620 266Q1621 273 1618 281Z" fill="#e4e4e4"/><path d="M1589 270L1615 284Q1606 296 1585 296Z" fill="#e4e4e4"/>
<rect x="1556.7" y="360.7" width="51.3" height="17.6" fill="#2490e2"/>
<!-- tree -->
<path d="M1536 387H1548L1548 420H1536Z" fill="#ffe27c"/>
<path d="M1530 388Q1522 380 1526 365Q1534 360 1540 352Q1552 346 1556 358Q1556 368 1560.7 376Q1558 386 1548 386Q1538 390 1530 388Z" fill="#74c2fd"/>
<path d="M1530 405H1555L1551 419.3H1534Z" fill="#fff" stroke="#74c2fd" stroke-width="1"/><path d="M1536 405V419M1540 405V419M1545 405V419M1549 405V419" stroke="#74c2fd" stroke-width=".7"/>
<!-- sitting woman right -->
<rect x="1608.3" y="381.7" width="36.7" height="3.3" fill="#ff5f5a"/><rect x="1610.7" y="385" width="3.3" height="34.3" fill="#ff5f5a"/><rect x="1631" y="385" width="3.3" height="34.3" fill="#ff5f5a"/>
<path d="M1603.3 331L1626.7 325.7H1640L1638 355H1606Z" fill="#fff" stroke="#3a8fe4" stroke-width=".8"/>
<path d="M1607 355H1639L1640.7 366.7L1635 378.3L1610 380L1601.7 410H1580L1585 368.3Z" fill="#74c2fd"/>
<path d="M1569.3 419.3Q1572 413 1584 411L1601 410L1605 419.3Z" fill="#1a6fd8"/>
<path d="M1592 345Q1600 332 1606 331L1618 324L1623 332L1612 345L1606 355L1596 356Q1590 352 1592 345Z" fill="#ffd6e8"/>
<path d="M1640 330Q1661 335 1661 346Q1658 358 1644 361" fill="none" stroke="#ffd6e8" stroke-width="10"/><path d="M1640 353H1650V366H1640Z" fill="#ffd6e8"/>
<path d="M1609.3 323.3Q1614 318 1616 314L1630 314Q1633 320 1636.7 323Q1628 318 1618 318Q1612 320 1609.3 323.3Z" fill="#1a6fd8"/><circle cx="1622.7" cy="307.7" r="3.6" fill="#1a6fd8"/>
<circle cx="1623" cy="319" r="5" fill="#ffd6e8"/>
</svg>
</body></html>
